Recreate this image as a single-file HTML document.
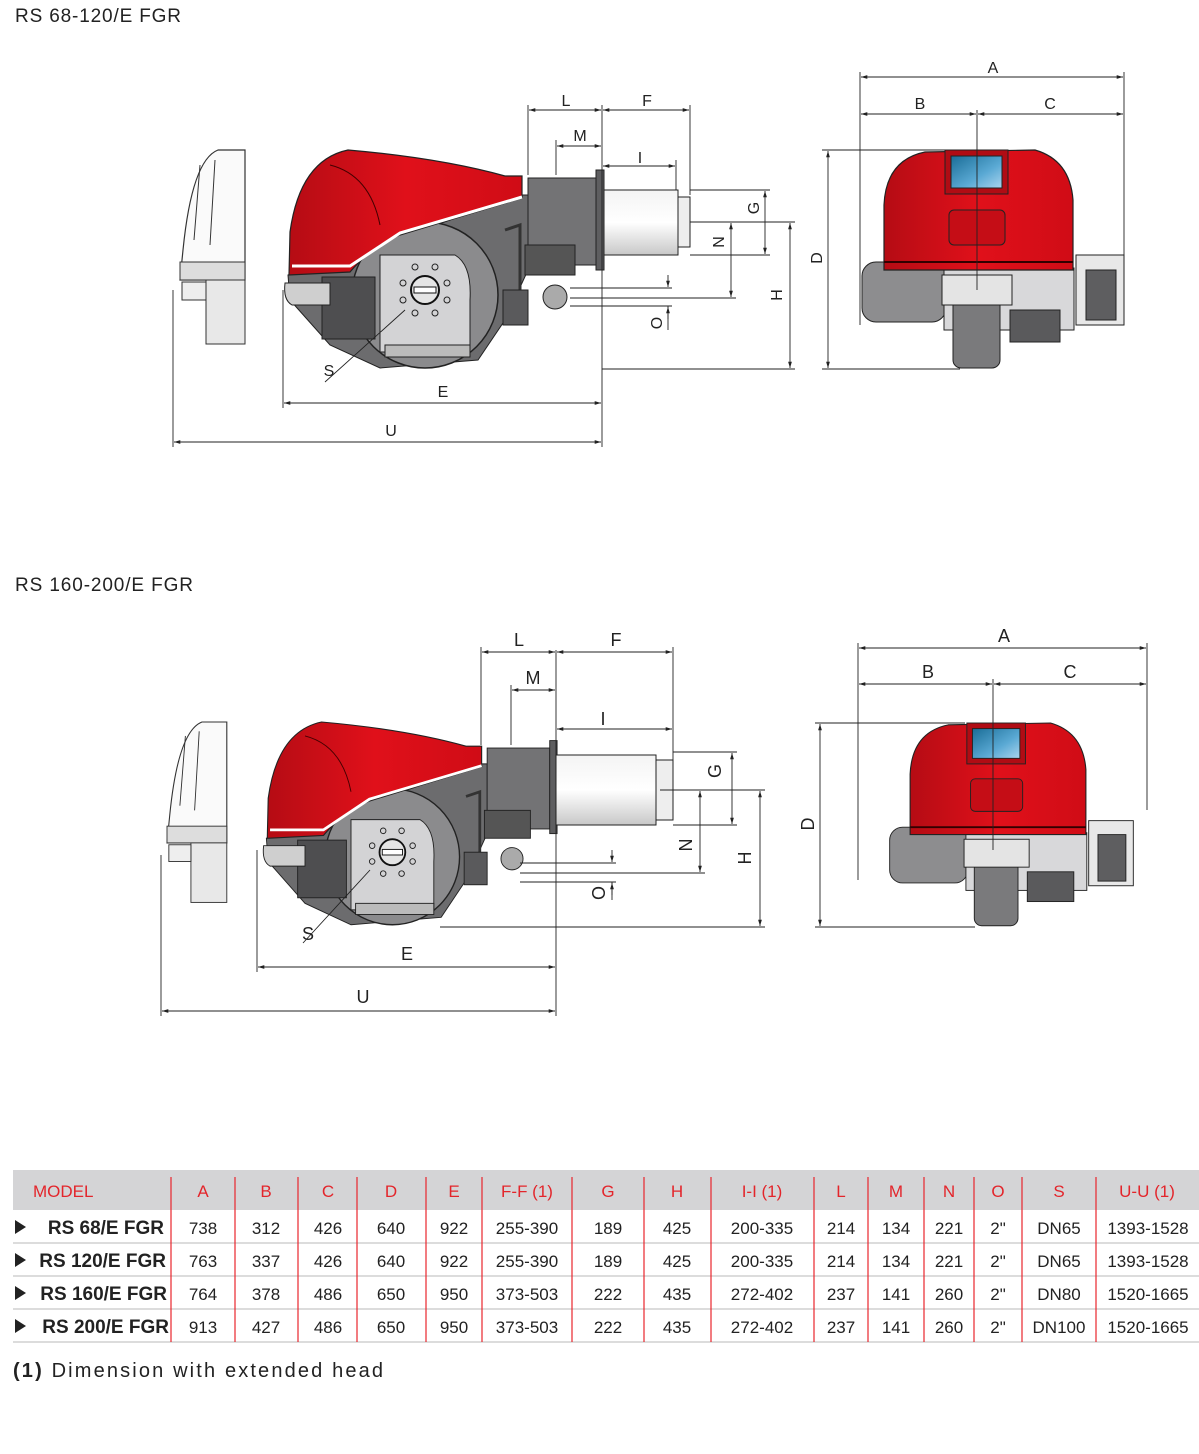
<!DOCTYPE html>
<html><head><meta charset="utf-8"><style>
html,body{margin:0;padding:0;background:#fff}
svg{display:block}
text{font-family:"Liberation Sans",sans-serif}
</style></head><body>
<svg width="1199" height="1454" viewBox="0 0 1199 1454" xmlns="http://www.w3.org/2000/svg">
<defs>
<marker id="ar" viewBox="0 0 10 10" refX="10" refY="5" markerWidth="7" markerHeight="7" orient="auto-start-reverse"><path d="M0,2 L10,5 L0,8 Z" fill="#222"/></marker>
<linearGradient id="tube" x1="0" y1="0" x2="0" y2="1"><stop offset="0" stop-color="#f4f4f4"/><stop offset=".5" stop-color="#fff"/><stop offset="1" stop-color="#c8c8c8"/></linearGradient>
<linearGradient id="red" x1="0" y1="0" x2="1" y2="0"><stop offset="0" stop-color="#b50c14"/><stop offset=".5" stop-color="#e0101a"/><stop offset="1" stop-color="#d00c16"/></linearGradient>
<linearGradient id="blue" x1="0" y1="0" x2="1" y2="1"><stop offset="0" stop-color="#1a6d97"/><stop offset=".6" stop-color="#5aa9d4"/><stop offset="1" stop-color="#a9d4ee"/></linearGradient>

<g id="side">
  <path d="M245,150 L218,150 Q192,160 183,250 L180,280 L245,280 Z" fill="#fafafa" stroke="#333" stroke-width="1.2"/>
  <path d="M200,165 L194,240 M215,160 L210,245" stroke="#333"/>
  <rect x="180" y="262" width="65" height="18" fill="#ddd" stroke="#333"/>
  <rect x="206" y="280" width="39" height="64" fill="#e8e8e8" stroke="#333"/>
  <rect x="182" y="282" width="24" height="18" fill="#eee" stroke="#333"/>
  <path d="M288,275 L380,245 L520,195 L528,195 L528,270 L505,320 L478,360 L380,368 L330,345 L290,300 Z" fill="#6c6c6e" stroke="#222"/>
  <circle cx="425" cy="295" r="73" fill="#8b8b8d" stroke="#222" stroke-width="1.5"/>
  <path d="M380,255 L455,255 Q472,265 470,300 L470,352 L380,352 Z" fill="#d3d3d5" stroke="#222"/>
  <rect x="385" y="345" width="85" height="12" fill="#bbb" stroke="#222"/>
  <circle cx="425" cy="290" r="14" fill="#e5e5e5" stroke="#111" stroke-width="2"/>
  <rect x="414" y="287" width="22" height="6" fill="#fff" stroke="#111"/>
  <g fill="none" stroke="#222"><circle cx="403" cy="283" r="3"/><circle cx="447" cy="283" r="3"/><circle cx="403" cy="300" r="3"/><circle cx="447" cy="300" r="3"/><circle cx="415" cy="267" r="3"/><circle cx="435" cy="267" r="3"/><circle cx="415" cy="313" r="3"/><circle cx="435" cy="313" r="3"/></g>
  <rect x="322" y="277" width="53" height="62" fill="#4e4e50" stroke="#222"/>
  <path d="M285,283 L330,283 L330,305 L292,305 Q283,300 285,283 Z" fill="#cfcfcf" stroke="#222"/>
  <path d="M289,275 L290,232 Q300,160 348,150 Q440,158 505,176 L522,176 L522,198 L400,235 Q372,246 350,272 Z" fill="url(#red)" stroke="#222" stroke-width="1.2"/>
  <path d="M292,266 L350,266 L400,233 L522,197" fill="none" stroke="#fff" stroke-width="3"/>
  <path d="M330,165 Q370,175 380,225" fill="none" stroke="#400" stroke-width="1"/>
  <rect x="528" y="178" width="68" height="87" fill="#737375" stroke="#222"/>
  <rect x="596" y="170" width="8" height="100" fill="#5e5e60" stroke="#222"/>
  <rect x="525" y="245" width="50" height="30" fill="#555" stroke="#222"/>
  <circle cx="555" cy="297" r="12" fill="#aaa" stroke="#222"/>
  <path d="M505,230 L520,225 L520,320" fill="none" stroke="#333" stroke-width="3"/>
  <rect x="503" y="290" width="25" height="35" fill="#5a5a5c" stroke="#222"/>
</g>

<g id="front">
  <rect x="862" y="262" width="84" height="60" rx="14" fill="#8d8d8f" stroke="#222"/>
  <rect x="944" y="268" width="130" height="62" fill="#d8d8da" stroke="#222"/>
  <rect x="1076" y="255" width="48" height="70" fill="#e8e8e8" stroke="#222"/>
  <rect x="1086" y="270" width="30" height="50" fill="#5e5e60" stroke="#222"/>
  <rect x="953" y="298" width="47" height="70" rx="8" fill="#7a7a7c" stroke="#222"/>
  <rect x="1010" y="310" width="50" height="32" fill="#5a5a5c" stroke="#222"/>
  <rect x="942" y="275" width="70" height="30" fill="#e4e4e4" stroke="#222"/>
  <path d="M884,270 L884,205 Q886,160 925,152 L1035,150 Q1070,160 1073,200 L1073,270 Z" fill="url(#red)" stroke="#222" stroke-width="1.2"/>
  <line x1="884" y1="262" x2="1073" y2="262" stroke="#300" stroke-width="2"/>
  <rect x="945" y="150" width="63" height="44" fill="#b00c14" stroke="#222"/>
  <rect x="951" y="156" width="51" height="32" fill="url(#blue)" stroke="#222"/>
  <rect x="949" y="210" width="56" height="35" rx="5" fill="#c50d16" stroke="#222"/>
</g>
</defs>

<text x="15" y="22" font-size="19" fill="#222" textLength="166" lengthAdjust="spacing">RS 68-120/E FGR</text>
<text x="15" y="591" font-size="19" fill="#222" textLength="178" lengthAdjust="spacing">RS 160-200/E FGR</text>

<use href="#side"/>
<rect x="604" y="190" width="74" height="65" fill="url(#tube)" stroke="#222"/>
<rect x="678" y="197" width="12" height="50" fill="#eee" stroke="#222"/>
<use href="#front"/>

<g stroke="#222" stroke-width="0.9" fill="none">
  <line x1="860" y1="72" x2="860" y2="325"/><line x1="1124" y1="72" x2="1124" y2="255"/><line x1="977" y1="110" x2="977" y2="290"/>
  <line x1="861" y1="77" x2="1123" y2="77" marker-start="url(#ar)" marker-end="url(#ar)"/>
  <line x1="861" y1="114" x2="976" y2="114" marker-start="url(#ar)" marker-end="url(#ar)"/>
  <line x1="978" y1="114" x2="1123" y2="114" marker-start="url(#ar)" marker-end="url(#ar)"/>
  <line x1="822" y1="150" x2="945" y2="150"/><line x1="822" y1="369" x2="960" y2="369"/>
  <line x1="828" y1="151" x2="828" y2="368" marker-start="url(#ar)" marker-end="url(#ar)"/>
  <line x1="283" y1="290" x2="283" y2="408"/><line x1="173" y1="290" x2="173" y2="447"/><line x1="602" y1="105" x2="602" y2="447"/>
  <line x1="284" y1="403" x2="601" y2="403" marker-start="url(#ar)" marker-end="url(#ar)"/>
  <line x1="174" y1="442" x2="601" y2="442" marker-start="url(#ar)" marker-end="url(#ar)"/>
  <line x1="528" y1="105" x2="528" y2="175"/><line x1="690" y1="105" x2="690" y2="195"/><line x1="556" y1="140" x2="556" y2="175"/>
  <line x1="529" y1="110" x2="601" y2="110" marker-start="url(#ar)" marker-end="url(#ar)"/>
  <line x1="603" y1="110" x2="689" y2="110" marker-start="url(#ar)" marker-end="url(#ar)"/>
  <line x1="557" y1="146" x2="601" y2="146" marker-start="url(#ar)" marker-end="url(#ar)"/>
  <line x1="603" y1="166" x2="675" y2="166" marker-start="url(#ar)" marker-end="url(#ar)"/><line x1="676" y1="160" x2="676" y2="190"/>
  <line x1="690" y1="190" x2="770" y2="190"/><line x1="690" y1="255" x2="770" y2="255"/>
  <line x1="765" y1="191" x2="765" y2="254" marker-start="url(#ar)" marker-end="url(#ar)"/>
  <line x1="690" y1="222" x2="795" y2="222"/><line x1="570" y1="298" x2="736" y2="298"/>
  <line x1="731" y1="223" x2="731" y2="297" marker-start="url(#ar)" marker-end="url(#ar)"/>
  <line x1="790" y1="223" x2="790" y2="368" marker-start="url(#ar)" marker-end="url(#ar)"/>
  <line x1="602" y1="369" x2="795" y2="369"/>
  <line x1="570" y1="288" x2="672" y2="288"/><line x1="570" y1="306" x2="672" y2="306"/>
  <line x1="668" y1="275" x2="668" y2="287" marker-end="url(#ar)"/><line x1="668" y1="319" x2="668" y2="307" marker-end="url(#ar)"/>
  <line x1="668" y1="306" x2="668" y2="330"/>
  <line x1="325" y1="382" x2="405" y2="310"/>
</g>
<g font-size="16" fill="#222" text-anchor="middle">
  <text x="993" y="73">A</text><text x="920" y="109">B</text><text x="1050" y="109">C</text>
  <text x="443" y="397">E</text><text x="391" y="436">U</text>
  <text x="566" y="106">L</text><text x="647" y="106">F</text><text x="580" y="141">M</text><text x="640" y="163">I</text>
  <text x="329" y="376">S</text>
  <text transform="translate(822,258) rotate(-90)">D</text>
  <text transform="translate(759,208) rotate(-90)">G</text>
  <text transform="translate(724,242) rotate(-90)">N</text>
  <text transform="translate(782,295) rotate(-90)">H</text>
  <text transform="translate(662,323) rotate(-90)">O</text>
</g>

<use href="#side" transform="translate(1.4,582.5) scale(0.92,0.93)"/>
<rect x="556" y="755" width="100" height="70" fill="url(#tube)" stroke="#222"/>
<rect x="656" y="760" width="17" height="60" fill="#eee" stroke="#222"/>
<use href="#front" transform="translate(88,583.5) scale(0.93)"/>

<g stroke="#222" stroke-width="0.9" fill="none">
  <line x1="858" y1="643" x2="858" y2="880"/><line x1="1147" y1="643" x2="1147" y2="810"/><line x1="993" y1="679" x2="993" y2="850"/>
  <line x1="859" y1="648" x2="1146" y2="648" marker-start="url(#ar)" marker-end="url(#ar)"/>
  <line x1="859" y1="684" x2="992" y2="684" marker-start="url(#ar)" marker-end="url(#ar)"/>
  <line x1="994" y1="684" x2="1146" y2="684" marker-start="url(#ar)" marker-end="url(#ar)"/>
  <line x1="815" y1="723" x2="965" y2="723"/><line x1="815" y1="927" x2="975" y2="927"/>
  <line x1="820" y1="724" x2="820" y2="926" marker-start="url(#ar)" marker-end="url(#ar)"/>
  <line x1="257" y1="850" x2="257" y2="972"/><line x1="161" y1="855" x2="161" y2="1016"/><line x1="556" y1="650" x2="556" y2="1016"/>
  <line x1="258" y1="967" x2="555" y2="967" marker-start="url(#ar)" marker-end="url(#ar)"/>
  <line x1="162" y1="1011" x2="555" y2="1011" marker-start="url(#ar)" marker-end="url(#ar)"/>
  <line x1="481" y1="647" x2="481" y2="745"/><line x1="673" y1="647" x2="673" y2="760"/><line x1="511" y1="685" x2="511" y2="745"/>
  <line x1="482" y1="652" x2="555" y2="652" marker-start="url(#ar)" marker-end="url(#ar)"/>
  <line x1="557" y1="652" x2="672" y2="652" marker-start="url(#ar)" marker-end="url(#ar)"/>
  <line x1="512" y1="690" x2="555" y2="690" marker-start="url(#ar)" marker-end="url(#ar)"/>
  <line x1="557" y1="729" x2="672" y2="729" marker-start="url(#ar)" marker-end="url(#ar)"/>
  <line x1="673" y1="752" x2="737" y2="752"/><line x1="673" y1="825" x2="737" y2="825"/>
  <line x1="732" y1="753" x2="732" y2="824" marker-start="url(#ar)" marker-end="url(#ar)"/>
  <line x1="660" y1="790" x2="765" y2="790"/><line x1="520" y1="873" x2="705" y2="873"/>
  <line x1="700" y1="791" x2="700" y2="872" marker-start="url(#ar)" marker-end="url(#ar)"/>
  <line x1="760" y1="791" x2="760" y2="926" marker-start="url(#ar)" marker-end="url(#ar)"/>
  <line x1="440" y1="927" x2="765" y2="927"/>
  <line x1="520" y1="863" x2="616" y2="863"/><line x1="520" y1="882" x2="616" y2="882"/>
  <line x1="612" y1="850" x2="612" y2="862" marker-end="url(#ar)"/><line x1="612" y1="895" x2="612" y2="883" marker-end="url(#ar)"/>
  <line x1="612" y1="882" x2="612" y2="900"/>
  <line x1="303" y1="943" x2="370" y2="870"/>
</g>
<g font-size="18" fill="#222" text-anchor="middle">
  <text x="1004" y="642">A</text><text x="928" y="678">B</text><text x="1070" y="678">C</text>
  <text x="407" y="960">E</text><text x="363" y="1003">U</text>
  <text x="519" y="646">L</text><text x="616" y="646">F</text><text x="533" y="684">M</text><text x="603" y="725">I</text>
  <text x="308" y="940">S</text>
  <text transform="translate(814,824) rotate(-90)">D</text>
  <text transform="translate(721,771) rotate(-90)">G</text>
  <text transform="translate(692,845) rotate(-90)">N</text>
  <text transform="translate(751,858) rotate(-90)">H</text>
  <text transform="translate(605,893) rotate(-90)">O</text>
</g>

<rect x="13" y="1170" width="1186" height="40" fill="#d4d4d6"/>
<g stroke="#d0d0d0" stroke-width="1.5">
  <line x1="13" y1="1243" x2="1199" y2="1243"/><line x1="13" y1="1276" x2="1199" y2="1276"/>
  <line x1="13" y1="1309" x2="1199" y2="1309"/><line x1="13" y1="1342" x2="1199" y2="1342"/>
</g>
<g stroke="#e8262d" stroke-width="1.2">
  <line x1="171" y1="1177" x2="171" y2="1342"/><line x1="235" y1="1177" x2="235" y2="1342"/><line x1="298" y1="1177" x2="298" y2="1342"/>
  <line x1="357" y1="1177" x2="357" y2="1342"/><line x1="426" y1="1177" x2="426" y2="1342"/><line x1="482" y1="1177" x2="482" y2="1342"/>
  <line x1="572" y1="1177" x2="572" y2="1342"/><line x1="644" y1="1177" x2="644" y2="1342"/><line x1="711" y1="1177" x2="711" y2="1342"/>
  <line x1="814" y1="1177" x2="814" y2="1342"/><line x1="868" y1="1177" x2="868" y2="1342"/><line x1="924" y1="1177" x2="924" y2="1342"/>
  <line x1="974" y1="1177" x2="974" y2="1342"/><line x1="1022" y1="1177" x2="1022" y2="1342"/><line x1="1096" y1="1177" x2="1096" y2="1342"/>
</g>
<g font-size="17" fill="#e3252b" text-anchor="middle">
  <text x="33" y="1197" text-anchor="start">MODEL</text>
  <text x="203" y="1197">A</text><text x="266" y="1197">B</text><text x="328" y="1197">C</text><text x="391" y="1197">D</text>
  <text x="454" y="1197">E</text><text x="527" y="1197">F-F (1)</text><text x="608" y="1197">G</text><text x="677" y="1197">H</text>
  <text x="762" y="1197">I-I (1)</text><text x="841" y="1197">L</text><text x="896" y="1197">M</text><text x="949" y="1197">N</text>
  <text x="998" y="1197">O</text><text x="1059" y="1197">S</text><text x="1147" y="1197">U-U (1)</text>
</g>
<g fill="#222">
  <path d="M15,1220 L26,1227 L15,1234 Z"/><path d="M15,1253 L26,1260 L15,1267 Z"/>
  <path d="M15,1286 L26,1293 L15,1300 Z"/><path d="M15,1319 L26,1326 L15,1333 Z"/>
</g>
<g font-size="19" font-weight="bold" fill="#222" text-anchor="end">
  <text x="164" y="1234">RS 68/E FGR</text><text x="166" y="1267">RS 120/E FGR</text>
  <text x="167" y="1300">RS 160/E FGR</text><text x="169" y="1333">RS 200/E FGR</text>
</g>
<g font-size="17" fill="#222" text-anchor="middle">
  <g transform="translate(0,1234)"><text x="203">738</text><text x="266">312</text><text x="328">426</text><text x="391">640</text><text x="454">922</text><text x="527">255-390</text><text x="608">189</text><text x="677">425</text><text x="762">200-335</text><text x="841">214</text><text x="896">134</text><text x="949">221</text><text x="998">2"</text><text x="1059">DN65</text><text x="1148">1393-1528</text></g>
  <g transform="translate(0,1267)"><text x="203">763</text><text x="266">337</text><text x="328">426</text><text x="391">640</text><text x="454">922</text><text x="527">255-390</text><text x="608">189</text><text x="677">425</text><text x="762">200-335</text><text x="841">214</text><text x="896">134</text><text x="949">221</text><text x="998">2"</text><text x="1059">DN65</text><text x="1148">1393-1528</text></g>
  <g transform="translate(0,1300)"><text x="203">764</text><text x="266">378</text><text x="328">486</text><text x="391">650</text><text x="454">950</text><text x="527">373-503</text><text x="608">222</text><text x="677">435</text><text x="762">272-402</text><text x="841">237</text><text x="896">141</text><text x="949">260</text><text x="998">2"</text><text x="1059">DN80</text><text x="1148">1520-1665</text></g>
  <g transform="translate(0,1333)"><text x="203">913</text><text x="266">427</text><text x="328">486</text><text x="391">650</text><text x="454">950</text><text x="527">373-503</text><text x="608">222</text><text x="677">435</text><text x="762">272-402</text><text x="841">237</text><text x="896">141</text><text x="949">260</text><text x="998">2"</text><text x="1059">DN100</text><text x="1148">1520-1665</text></g>
</g>
<text x="13" y="1377" font-size="20" fill="#222" textLength="370" lengthAdjust="spacing"><tspan font-weight="bold">(1)</tspan> Dimension with extended head</text>
</svg>
</body></html>
